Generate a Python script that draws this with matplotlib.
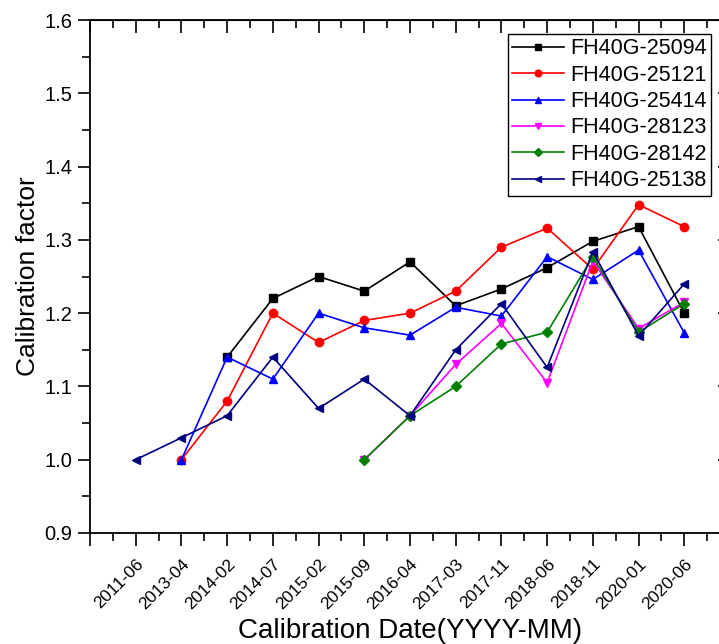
import numpy as np
import matplotlib.pyplot as plt
from matplotlib.ticker import MultipleLocator

plt.rcParams['font.family'] = ['Liberation Sans', 'DejaVu Sans']

# fechas de calibracion (eje x categorico)
dates = ['2011-06', '2013-04', '2014-02', '2014-07', '2015-02', '2015-09', '2016-04',
         '2017-03', '2017-11', '2018-06', '2018-11', '2020-01', '2020-06']

# factores de calibracion (None = sin dato)
fh25094 = [None, None, 1.14, 1.22, 1.25, 1.23, 1.27, 1.21, 1.233, 1.262, 1.298, 1.318, 1.20]
fh25121 = [None, 1.00, 1.08, 1.20, 1.16, 1.19, 1.20, 1.23, 1.29, 1.316, 1.26, 1.348, 1.318]
fh25414 = [None, 1.00, 1.14, 1.11, 1.20, 1.18, 1.17, 1.208, 1.196, 1.277, 1.246, 1.286, 1.173]
fh28123 = [None, None, None, None, None, 1.00, 1.06, 1.13, 1.186, 1.105, 1.271, 1.179, 1.215]
fh28142 = [None, None, None, None, None, 1.00, 1.06, 1.10, 1.158, 1.174, 1.277, 1.174, 1.213]
fh25138 = [1.00, 1.03, 1.06, 1.14, 1.07, 1.11, 1.06, 1.15, 1.213, 1.126, 1.284, 1.169, 1.24]

series = [
    ('FH40G-25094', fh25094, 'black', 's'),
    ('FH40G-25121', fh25121, 'red', 'o'),
    ('FH40G-25414', fh25414, 'blue', '^'),
    ('FH40G-28123', fh28123, 'magenta', 'v'),
    ('FH40G-28142', fh28142, 'green', 'D'),
    ('FH40G-25138', fh25138, 'navy', '<'),
]

xx = np.arange(len(dates))

fig = plt.figure(figsize=(7.19, 6.44), dpi=100)
ax = fig.add_axes([90/719, 111/644, 640/719, 513/644])

for name, vals, col, mk in series:
    y = np.array([np.nan if v is None else v for v in vals], dtype=float)
    ok = ~np.isnan(y)
    ms = 5 if mk == 'D' else 6
    ax.plot(xx[ok], y[ok], '-', color=col, marker=mk, markersize=ms,
            linewidth=1.2, label=name)

ax.set_xlim(-1, 13)
ax.set_ylim(0.9, 1.6)
ax.set_xticks(np.arange(-1, 14))
ax.set_xticklabels([''] + dates + [''], rotation=45, ha='right', va='top',
                   rotation_mode='anchor', fontsize=12.5)
ax.xaxis.set_minor_locator(MultipleLocator(0.5))
ax.yaxis.set_major_locator(MultipleLocator(0.1))
ax.yaxis.set_minor_locator(MultipleLocator(0.05))
ax.yaxis.set_major_formatter(plt.FormatStrFormatter('%.1f'))
ax.tick_params(axis='y', labelsize=14.5)

ax.tick_params(which='major', direction='out', length=9, width=1.2,
               top=False, right=False)
ax.tick_params(which='minor', direction='out', length=6, width=1.2,
               top=False, right=False)
ax.tick_params(axis='x', which='major', pad=8)
for s in ax.spines.values():
    s.set_linewidth(1.3)

# ticks hacia adentro arriba y a la derecha
ax2 = ax.secondary_xaxis('top')
ax2.set_xticks(np.arange(-1, 14))
ax2.xaxis.set_minor_locator(MultipleLocator(0.5))
ax2.tick_params(which='major', direction='in', length=9, width=1.2, labeltop=False)
ax2.tick_params(which='minor', direction='in', length=6, width=1.2)
ax3 = ax.secondary_yaxis('right')
ax3.yaxis.set_major_locator(MultipleLocator(0.1))
ax3.yaxis.set_minor_locator(MultipleLocator(0.05))
ax3.tick_params(which='major', direction='in', length=9, width=1.2, labelright=False)
ax3.tick_params(which='minor', direction='in', length=6, width=1.2)

ax.set_xlabel('Calibration Date(YYYY-MM)', fontsize=20, labelpad=4)
ax.set_ylabel('Calibration factor', fontsize=19, labelpad=3)

leg = ax.legend(loc='upper right', bbox_to_anchor=(711/719, 1 - 34/644),
                bbox_transform=fig.transFigure, borderaxespad=0, fontsize=15.5,
                fancybox=False, framealpha=1, edgecolor='black',
                handlelength=2.4, markerscale=0.8, labelspacing=0.25,
                borderpad=0.2, handletextpad=0.3)
leg.get_frame().set_linewidth(1.0)

fig.savefig('out.png', dpi=100)
